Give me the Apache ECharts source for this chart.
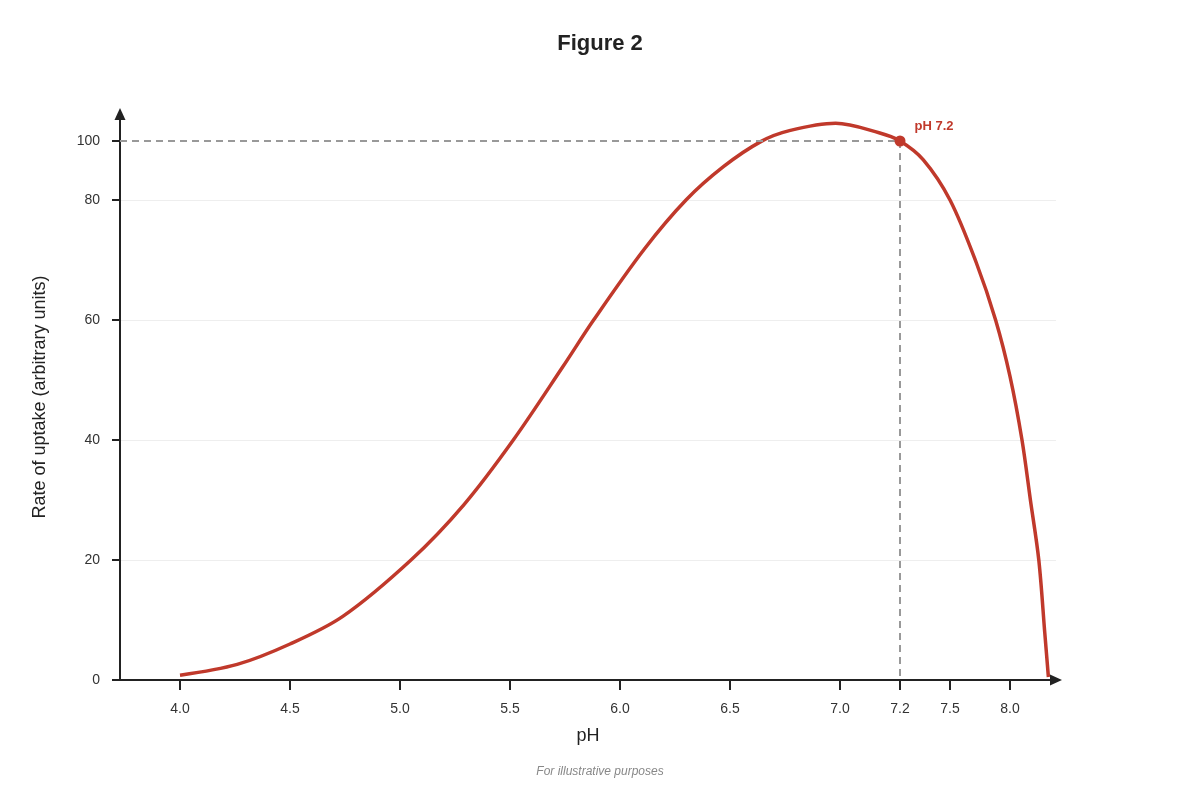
<!DOCTYPE html>
<html>
<head>
<meta charset="UTF-8">
<title>Figure 2</title>
<script src="https://cdn.jsdelivr.net/npm/echarts@6/dist/echarts.min.js"></script>
</head>
<body style="margin: 0; background: #fff;">
<div id="container" style="width: 1200px; height: 800px;"></div>
<script type="text/javascript">

// curve: pH and rate of uptake
var phValues = [4.00, 4.26, 4.50, 4.74, 5.05, 5.29, 5.515, 5.74, 5.88, 6.11, 6.30, 6.47, 6.64, 6.77, 6.98,
    7.13, 7.20, 7.34, 7.50, 7.72, 7.88, 8.00, 8.10, 8.17, 8.24, 8.29, 8.32];
var rateValues = [0.8, 2.6, 6.0, 10.6, 20.0, 29.2, 40.0, 52.2, 60.0, 71.8, 80.0, 91.3, 99.8, 103.5, 106.0,
    102.8, 100.0, 93.6, 80.0, 69.5, 60.0, 50.6, 40.0, 30.0, 20.0, 7.8, 0.5];

var phTicks = [4.0, 4.5, 5.0, 5.5, 6.0, 6.5, 7.0, 7.2, 7.5, 8.0];
var rateTicks = [0, 20, 40, 60, 80, 100];

var optimumPh = 7.2;
var optimumRate = 100;

// the figure's axes are not linear, each stretch has its own scale
var phScale = [[4.0, 60], [7.0, 720], [7.2, 780], [7.5, 830], [8.0, 890], [8.5, 950]];
var rateScale = [[0, 0], [80, 480], [100, 539], [120, 598]];

function piecewise(scale, v) {
    for (var i = 1; i < scale.length; i++) {
        if (v <= scale[i][0] || i === scale.length - 1) {
            var a = scale[i - 1], b = scale[i];
            return a[1] + (v - a[0]) * (b[1] - a[1]) / (b[0] - a[0]);
        }
    }
}
function xPos(ph) { return piecewise(phScale, ph); }
function yPos(rate) { return piecewise(rateScale, rate); }

function labelFor(ticks, posFn, digits) {
    return function (v) {
        for (var i = 0; i < ticks.length; i++) {
            if (Math.abs(posFn(ticks[i]) - v) < 0.01) {
                return ticks[i].toFixed(digits);
            }
        }
        return '';
    };
}

var curve = [];
for (var i = 0; i < phValues.length; i++) {
    curve.push([xPos(phValues[i]), yPos(rateValues[i])]);
}
var optX = xPos(optimumPh);
var optY = yPos(optimumRate);

var font = 'Liberation Sans, Arial, Helvetica, sans-serif';
var red = '#c0392b';

var dom = document.getElementById('container');
var myChart = echarts.init(dom);

var option = {
    backgroundColor: '#ffffff',
    animation: false,
    textStyle: {fontFamily: font},
    title: [
        {
            text: 'Figure 2',
            left: 'center',
            top: 28,
            textStyle: {fontSize: 22, fontWeight: 'bold', color: '#222', fontFamily: font}
        },
        {
            text: 'For illustrative purposes',
            left: 'center',
            top: 761,
            textStyle: {fontSize: 12, fontStyle: 'italic', fontWeight: 'normal', color: '#888', fontFamily: font}
        }
    ],
    grid: {left: 120, right: 144, top: 114, bottom: 120},
    xAxis: {
        type: 'value',
        min: 0,
        max: 936,
        name: 'pH',
        nameLocation: 'middle',
        nameGap: 47,
        nameTextStyle: {fontSize: 18, color: '#222', fontFamily: font},
        axisLine: {
            show: true,
            symbol: ['none', 'triangle'],
            symbolSize: [11, 12],
            lineStyle: {color: '#222', width: 2}
        },
        axisTick: {
            show: true,
            length: 10,
            customValues: phTicks.map(xPos),
            lineStyle: {color: '#222', width: 2}
        },
        axisLabel: {
            customValues: phTicks.map(xPos),
            margin: 22,
            fontSize: 14,
            color: '#333',
            formatter: labelFor(phTicks, xPos, 1)
        },
        splitLine: {show: false}
    },
    yAxis: {
        type: 'value',
        min: 0,
        max: 566,
        name: 'Rate of uptake (arbitrary units)',
        nameLocation: 'middle',
        nameGap: 71,
        nameTextStyle: {fontSize: 18, color: '#222', fontFamily: font},
        axisLine: {
            show: true,
            symbol: ['none', 'triangle'],
            symbolSize: [11, 12],
            lineStyle: {color: '#222', width: 2}
        },
        axisTick: {
            show: true,
            length: 8,
            customValues: rateTicks.map(yPos),
            lineStyle: {color: '#222', width: 2}
        },
        axisLabel: {
            customValues: rateTicks.map(yPos),
            margin: 20,
            padding: [4, 0, 0, 0],
            fontSize: 14,
            color: '#333',
            formatter: labelFor(rateTicks, yPos, 0)
        },
        splitLine: {
            show: true,
            lineStyle: {
                color: ['rgba(0,0,0,0)', '#eeeeee', '#eeeeee', '#eeeeee', '#eeeeee', 'rgba(0,0,0,0)'],
                width: 1
            }
        }
    },
    series: [
        {
            name: 'Rate of uptake',
            type: 'line',
            data: curve,
            smooth: 0.33,
            showSymbol: false,
            lineStyle: {color: red, width: 3.5},
            markLine: {
                silent: true,
                symbol: 'none',
                label: {show: false},
                lineStyle: {color: '#999', width: 2, type: [7, 5]},
                data: [
                    [{coord: [0, optY]}, {coord: [optX, optY]}],
                    [{coord: [optX, optY]}, {coord: [optX, 0]}]
                ]
            }
        },
        {
            name: 'Optimum',
            type: 'scatter',
            data: [[optX, optY]],
            symbolSize: 11,
            itemStyle: {color: red, opacity: 1},
            z: 5,
            label: {
                show: true,
                position: [20, -16],
                formatter: 'pH ' + optimumPh.toFixed(1),
                fontSize: 13,
                fontWeight: 'bold',
                color: red
            }
        }
    ]
};

if (option && typeof option === 'object') {
    myChart.setOption(option, true);
}

</script>
</body>
</html>
